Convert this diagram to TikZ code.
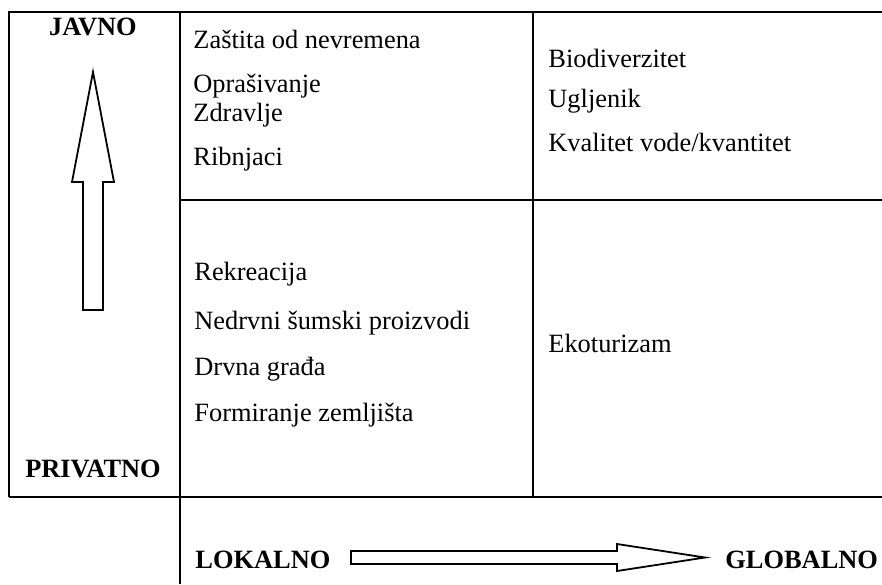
\documentclass[tikz,border=0pt]{standalone}
\usepackage{fontspec}
\setmainfont{Liberation Serif}
\usepackage{tikz}
\newcommand{\tblfont}{\fontsize{13.2}{16}\selectfont}
\newcommand{\tblxa}{9}
\newcommand{\tblxb}{180}
\newcommand{\tblxc}{533}
\newcommand{\tblxd}{882}
\newcommand{\tblya}{12}
\newcommand{\tblyb}{200}
\newcommand{\tblyc}{497}
\newcommand{\tblyd}{584}
\newcommand{\tblnxa}{93}
\newcommand{\tblnxb}{\tblxb + 13}
\newcommand{\tblnxc}{\tblxc + 15}
\newcommand{\arrvx}{93}
\newcommand{\arrvw}{10}
\newcommand{\arrvh}{21}
\newcommand{\arrhy}{557.5}
\newcommand{\arrhw}{6.5}
\newcommand{\arrhh}{13.5}
\tikzset{
  gridline/.style={line width=1.3pt},
  bigarrow/.style={line width=0.9pt, fill=white, line join=miter},
  cell/.style={anchor=base west, inner sep=0pt},
  headlbl/.style={anchor=base, inner sep=0pt, font=\tblfont\bfseries}
}

\begin{document}
\begin{tikzpicture}[x=0.5pt,y=-0.5pt,font=\tblfont]
    \useasboundingbox (0,0) rectangle (\tblxd,\tblyd);

    % table
    \draw[gridline] (\tblxa,\tblyc) -- (\tblxa,\tblya) -- (\tblxd,\tblya);
    \draw[gridline] (\tblxa,\tblyc) -- (\tblxd,\tblyc);
    \draw[gridline] (\tblxb,\tblya) -- (\tblxb,\tblyd);
    \draw[gridline] (\tblxc,\tblya) -- (\tblxc,\tblyc);
    \draw[gridline] (\tblxb,\tblyb) -- (\tblxd,\tblyb);

    \node (javno) [headlbl] at (\tblnxa, 35) {JAVNO};
    \node (privatno) [headlbl] at (\tblnxa, 477) {PRIVATNO};
    \node (lokalno) [headlbl, anchor=base west] at (195, 568) {LOKALNO};
    \node (globalno) [headlbl, anchor=base west] at (725, 568) {GLOBALNO};

    \node (zastita) [cell] at (\tblnxb, 48) {Zaštita od nevremena};
    \node (oprasivanje) [cell] at (\tblnxb, 92) {Oprašivanje};
    \node (zdravlje) [cell] at (\tblnxb, 121) {Zdravlje};
    \node (ribnjaci) [cell] at (\tblnxb, 165) {Ribnjaci};

    \node (biodiv) [cell] at (\tblnxc, 67) {Biodiverzitet};
    \node (ugljenik) [cell] at (\tblnxc, 107) {Ugljenik};
    \node (voda) [cell] at (\tblnxc, 151) {Kvalitet vode/kvantitet};

    \node (rekreacija) [cell] at (\tblnxb + 1, 280) {Rekreacija};
    \node (nedrvni) [cell] at (\tblnxb + 1, 329) {Nedrvni šumski proizvodi};
    \node (grada) [cell] at (\tblnxb + 1, 375) {Drvna građa};
    \node (zemljiste) [cell] at (\tblnxb + 1, 421) {Formiranje zemljišta};

    \node (ekoturizam) [cell] at (\tblnxc, 352) {Ekoturizam};

    % javno <-> privatno
    \draw[bigarrow] (\arrvx - \arrvw, 310) -- (\arrvx - \arrvw, 182)
      -- (\arrvx - \arrvh, 182) -- (\arrvx, 72) -- (\arrvx + \arrvh, 182)
      -- (\arrvx + \arrvw, 182) -- (\arrvx + \arrvw, 310) -- cycle;
    % lokalno -> globalno
    \draw[bigarrow] (351, \arrhy - \arrhw) -- (617, \arrhy - \arrhw)
      -- (617, \arrhy - \arrhh) -- (705, \arrhy) -- (617, \arrhy + \arrhh)
      -- (617, \arrhy + \arrhw) -- (351, \arrhy + \arrhw) -- cycle;
  \end{tikzpicture}
\end{document}
